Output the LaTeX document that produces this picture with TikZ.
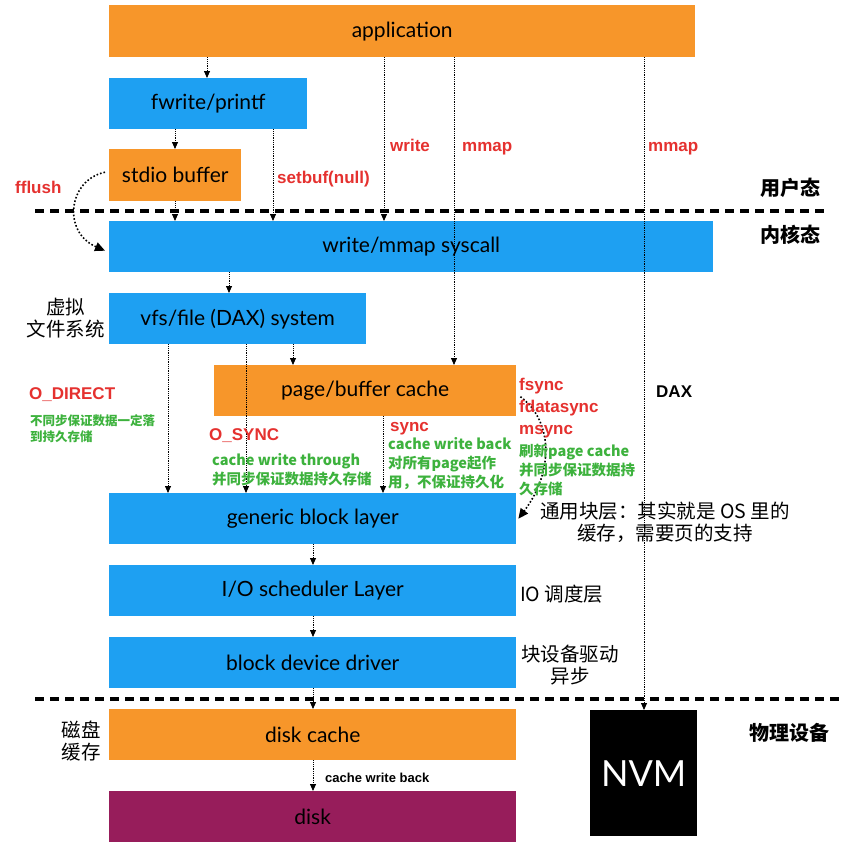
\documentclass[tikz,border=0pt]{standalone}
\usepackage{fontspec}
\setmainfont{Lato}
\newfontfamily\cjk{Noto Sans CJK SC}
\newfontfamily\lab{Liberation Sans}
\usetikzlibrary{arrows.meta}
\definecolor{orng}{HTML}{F7962A}
\definecolor{blu}{HTML}{1EA0F2}
\definecolor{dsk}{HTML}{971D5B}
\definecolor{rd}{HTML}{E5312F}
\definecolor{grn}{HTML}{3DB23D}
\tikzset{
  box/.style={inner sep=0, anchor=north west, text=black, font=\fontsize{21}{24}\selectfont},
  arr/.style={densely dotted, line width=0.8pt, -{Triangle[width=6pt,length=7pt]}},
  curv/.style={dotted, line width=1.6pt, -{Triangle[width=9pt,length=10pt]}},
  sep/.style={line width=4pt, dash pattern=on 9pt off 6pt},
  rl/.style={text=rd, font=\lab\bfseries\fontsize{17}{20}\selectfont, inner sep=0, anchor=base west},
  gl/.style={text=grn, font=\cjk\bfseries\fontsize{14.5}{19}\selectfont, inner sep=0, anchor=base west},
  gls/.style={text=grn, font=\cjk\bfseries\fontsize{12.5}{16}\selectfont, inner sep=0, anchor=base west},
  cl/.style={text=black, font=\cjk\fontsize{19.5}{22}\selectfont, inner sep=0, align=center},
  cb/.style={text=black, font=\cjk\bfseries\fontsize{20}{22}\selectfont, inner sep=0, anchor=west},
}
\begin{document}
\begin{tikzpicture}[x=1pt,y=-1pt]
\useasboundingbox[fill=white] (0,0) rectangle (849,854);
% boxes
\node[box, fill=orng, minimum width=586, minimum height=52] (app) at (109,5) {application};
\node[box, fill=blu, minimum width=198, minimum height=51] (fw) at (109,78) {fwrite/printf};
\node[box, fill=orng, minimum width=132, minimum height=52] (stdio) at (109,149) {stdio buffer};
\node[box, fill=blu, minimum width=604, minimum height=51] (sys) at (109,221) {write/mmap syscall};
\node[box, fill=blu, minimum width=257, minimum height=51] (vfs) at (109,293) {vfs/file (DAX) system};
\node[box, fill=orng, minimum width=302, minimum height=51] (pc) at (214,365) {page/buffer cache};
\node[box, fill=blu, minimum width=407, minimum height=51] (gbl) at (109,493) {generic block layer};
\node[box, fill=blu, minimum width=407, minimum height=51] (ios) at (109,565) {I/O scheduler Layer};
\node[box, fill=blu, minimum width=407, minimum height=51] (bdd) at (109,637) {block device driver};
\node[box, fill=orng, minimum width=407, minimum height=51] (dc) at (109,709) {disk cache};
\node[box, fill=dsk, minimum width=407, minimum height=51] (disk) at (109,791) {disk};
\node[box, fill=black, text=white, minimum width=107, minimum height=126, font=\fontsize{36}{40}\selectfont] (nvm) at (590,710) {NVM};
% separators
\coordinate (s1a) at (35,211); \coordinate (s1b) at (827,211);
\coordinate (s2a) at (35,699); \coordinate (s2b) at (840,699);
\draw[sep] (s1a) -- (s1b);
\draw[sep] (s2a) -- (s2b);
% arrows
\draw[arr] (app.south -| 207,0) -- (fw.north -| 207,0);
\draw[arr] (fw.south -| 175,0) -- (stdio.north -| 175,0);
\draw[arr] (stdio.south -| 175,0) -- (sys.north -| 175,0);
\draw[arr] (fw.south -| 273,0) -- (sys.north -| 273,0);
\draw[arr] (app.south -| 384,0) -- (sys.north -| 384,0);
\draw[arr] (app.south -| 454,0) -- (pc.north -| 454,0);
\draw[arr] (app.south -| 644,0) -- (nvm.north -| 644,0);
\draw[arr] (sys.south -| 229,0) -- (vfs.north -| 229,0);
\draw[arr] (vfs.south -| 293,0) -- (pc.north -| 293,0);
\draw[arr] (vfs.south -| 168,0) -- (gbl.north -| 168,0);
\draw[arr] (vfs.south -| 246,0) -- (gbl.north -| 246,0);
\draw[arr] (pc.south -| 383,0) -- (gbl.north -| 383,0);
\draw[arr] (gbl.south -| 313,0) -- (ios.north -| 313,0);
\draw[arr] (ios.south -| 313,0) -- (bdd.north -| 313,0);
\draw[arr] (bdd.south -| 313,0) -- (dc.north -| 313,0);
\draw[arr] (dc.south -| 313,0) -- (disk.north -| 313,0);
\draw[curv] ([xshift=-4pt,yshift=3pt]stdio.west) .. controls (68,180) and (62,232) .. ([xshift=-4pt,yshift=-4pt]sys.west);
\draw[curv] ([xshift=4pt,yshift=-6pt]pc.east) .. controls (552,420) and (555,470) .. ([xshift=2pt]gbl.east);
% red labels
\node[rl] (lfflush) at (15,193) {fflush};
\node[rl] (lsetbuf) at (277,183) {setbuf(null)};
\node[rl] (lwrite) at (390,151) {write};
\node[rl] (lmmap1) at (462,151) {mmap};
\node[rl] (lmmap2) at (648,151) {mmap};
\node[rl] (lodirect) at (29,399) {O\_DIRECT};
\node[rl] (losync) at (209,440) {O\_SYNC};
\node[rl] (lsync) at (390,431) {sync};
\node[rl] (lfsync) at (519,390) {fsync};
\node[rl] (lfdata) at (519,412) {fdatasync};
\node[rl] (lmsync) at (519,434) {msync};
\node[rl, text=black] (ldax) at (656,397) {DAX};
% green labels
\node[gls] (g1a) at (30,425) {不同步保证数据一定落};
\node[gls] (g1b) at (30,441) {到持久存储};
\node[gl] (g2a) at (212,465) {cache write through};
\node[gl] (g2b) at (212,484) {并同步保证数据持久存储};
\node[gl] (g3a) at (388,449) {cache write back};
\node[gl] (g3b) at (388,468) {对所有page起作};
\node[gl] (g3c) at (388,487) {用，不保证持久化};
\node[gl] (g4a) at (519,456) {刷新page cache};
\node[gl] (g4b) at (519,475) {并同步保证数据持};
\node[gl] (g4c) at (519,494) {久存储};
% black labels
\node[cb] (luser) at (760,188) {用户态};
\node[cb] (lkern) at (760,235) {内核态};
\node[cb] (lphys) at (749,733) {物理设备};
\node[cl] (lvfs) at (66,318) {虚拟\\文件系统};
\node[cl] (lgbl) at (665,522) {通用块层：其实就是 OS 里的\\缓存，需要页的支持};
\node[cl, anchor=west] (lios) at (520,594) {IO 调度层};
\node[cl] (lbdd) at (570,665) {块设备驱动\\异步};
\node[cl] (ldc) at (81,741) {磁盘\\缓存};
\node[text=black, font=\lab\bfseries\fontsize{13}{15}\selectfont, inner sep=0, anchor=base west] (lcwb) at (325,782) {cache write back};
\end{tikzpicture}
\end{document}
